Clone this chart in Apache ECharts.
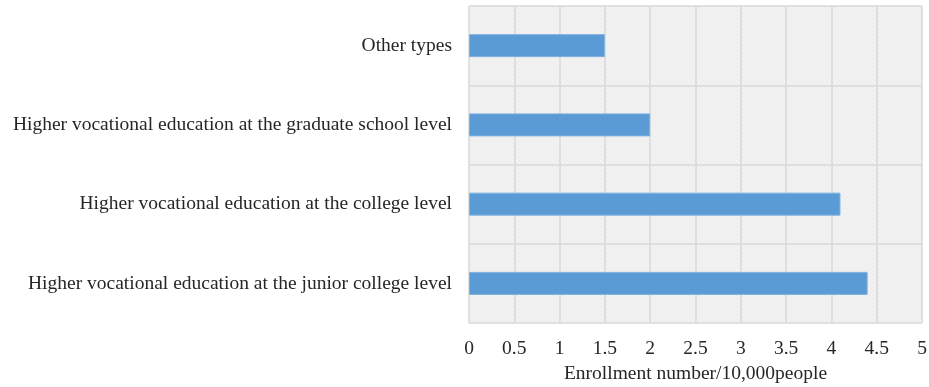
<!DOCTYPE html>
<html>
<head>
<meta charset="utf-8">
<script src="https://cdn.jsdelivr.net/npm/echarts@6/dist/echarts.min.js"></script>
<style>
  html, body { margin: 0; padding: 0; background: #ffffff; }
  #chart { width: 929px; height: 387px; }
</style>
</head>
<body>
<div id="chart"></div>
<script>
// Enrollment by programme type (bottom to top on the category axis)
const categories = [
  'Higher vocational education at the junior college level',
  'Higher vocational education at the college level',
  'Higher vocational education at the graduate school level',
  'Other types'
];
const enrollment = [4.4, 4.1, 2.0, 1.5];
const xTicks = { min: 0, max: 5, interval: 0.5 };
const axisTitle = 'Enrollment number/10,000people';

// fine diagonal texture for the plot background
function hatch() {
  const c = document.createElement('canvas');
  c.width = 4; c.height = 4;
  const g = c.getContext('2d');
  g.fillStyle = '#f2f2f2';
  g.fillRect(0, 0, 4, 4);
  g.fillStyle = '#ebebeb';
  g.fillRect(0, 3, 1, 1);
  g.fillRect(1, 2, 1, 1);
  g.fillRect(2, 1, 1, 1);
  g.fillRect(3, 0, 1, 1);
  return c;
}

const chart = echarts.init(document.getElementById('chart'), null, { renderer: 'canvas' });
const font = 'Liberation Serif, Times New Roman, serif';

chart.setOption({
  animation: false,
  backgroundColor: '#ffffff',
  grid: {
    left: 469, right: 7, top: 6, bottom: 64,
    outerBoundsMode: 'none',
    containLabel: false,
    show: true,
    backgroundColor: { image: hatch(), repeat: 'repeat' },
    borderWidth: 0
  },
  xAxis: {
    type: 'value',
    min: xTicks.min, max: xTicks.max, interval: xTicks.interval,
    axisLine: { show: false },
    axisTick: { show: false },
    splitLine: { show: true, lineStyle: { color: '#d9d9d9', width: 1.5 } },
    axisLabel: {
      color: '#262626', fontFamily: font, fontSize: 19.5, margin: 16,
      formatter: v => String(v)
    },
    name: axisTitle,
    nameLocation: 'middle',
    nameGap: 41,
    nameTextStyle: { color: '#262626', fontFamily: font, fontSize: 19.5 }
  },
  yAxis: {
    type: 'category',
    data: categories,
    axisLine: { show: false },
    axisTick: { show: false },
    splitLine: { show: true, lineStyle: { color: '#d9d9d9', width: 1.5 } },
    axisLabel: { color: '#262626', fontFamily: font, fontSize: 19.5, margin: 17 }
  },
  series: [{
    type: 'bar',
    data: enrollment,
    barWidth: 23,
    itemStyle: { color: '#5b9bd5', borderColor: '#7fb0df', borderWidth: 1 }
  }]
});
</script>
</body>
</html>
